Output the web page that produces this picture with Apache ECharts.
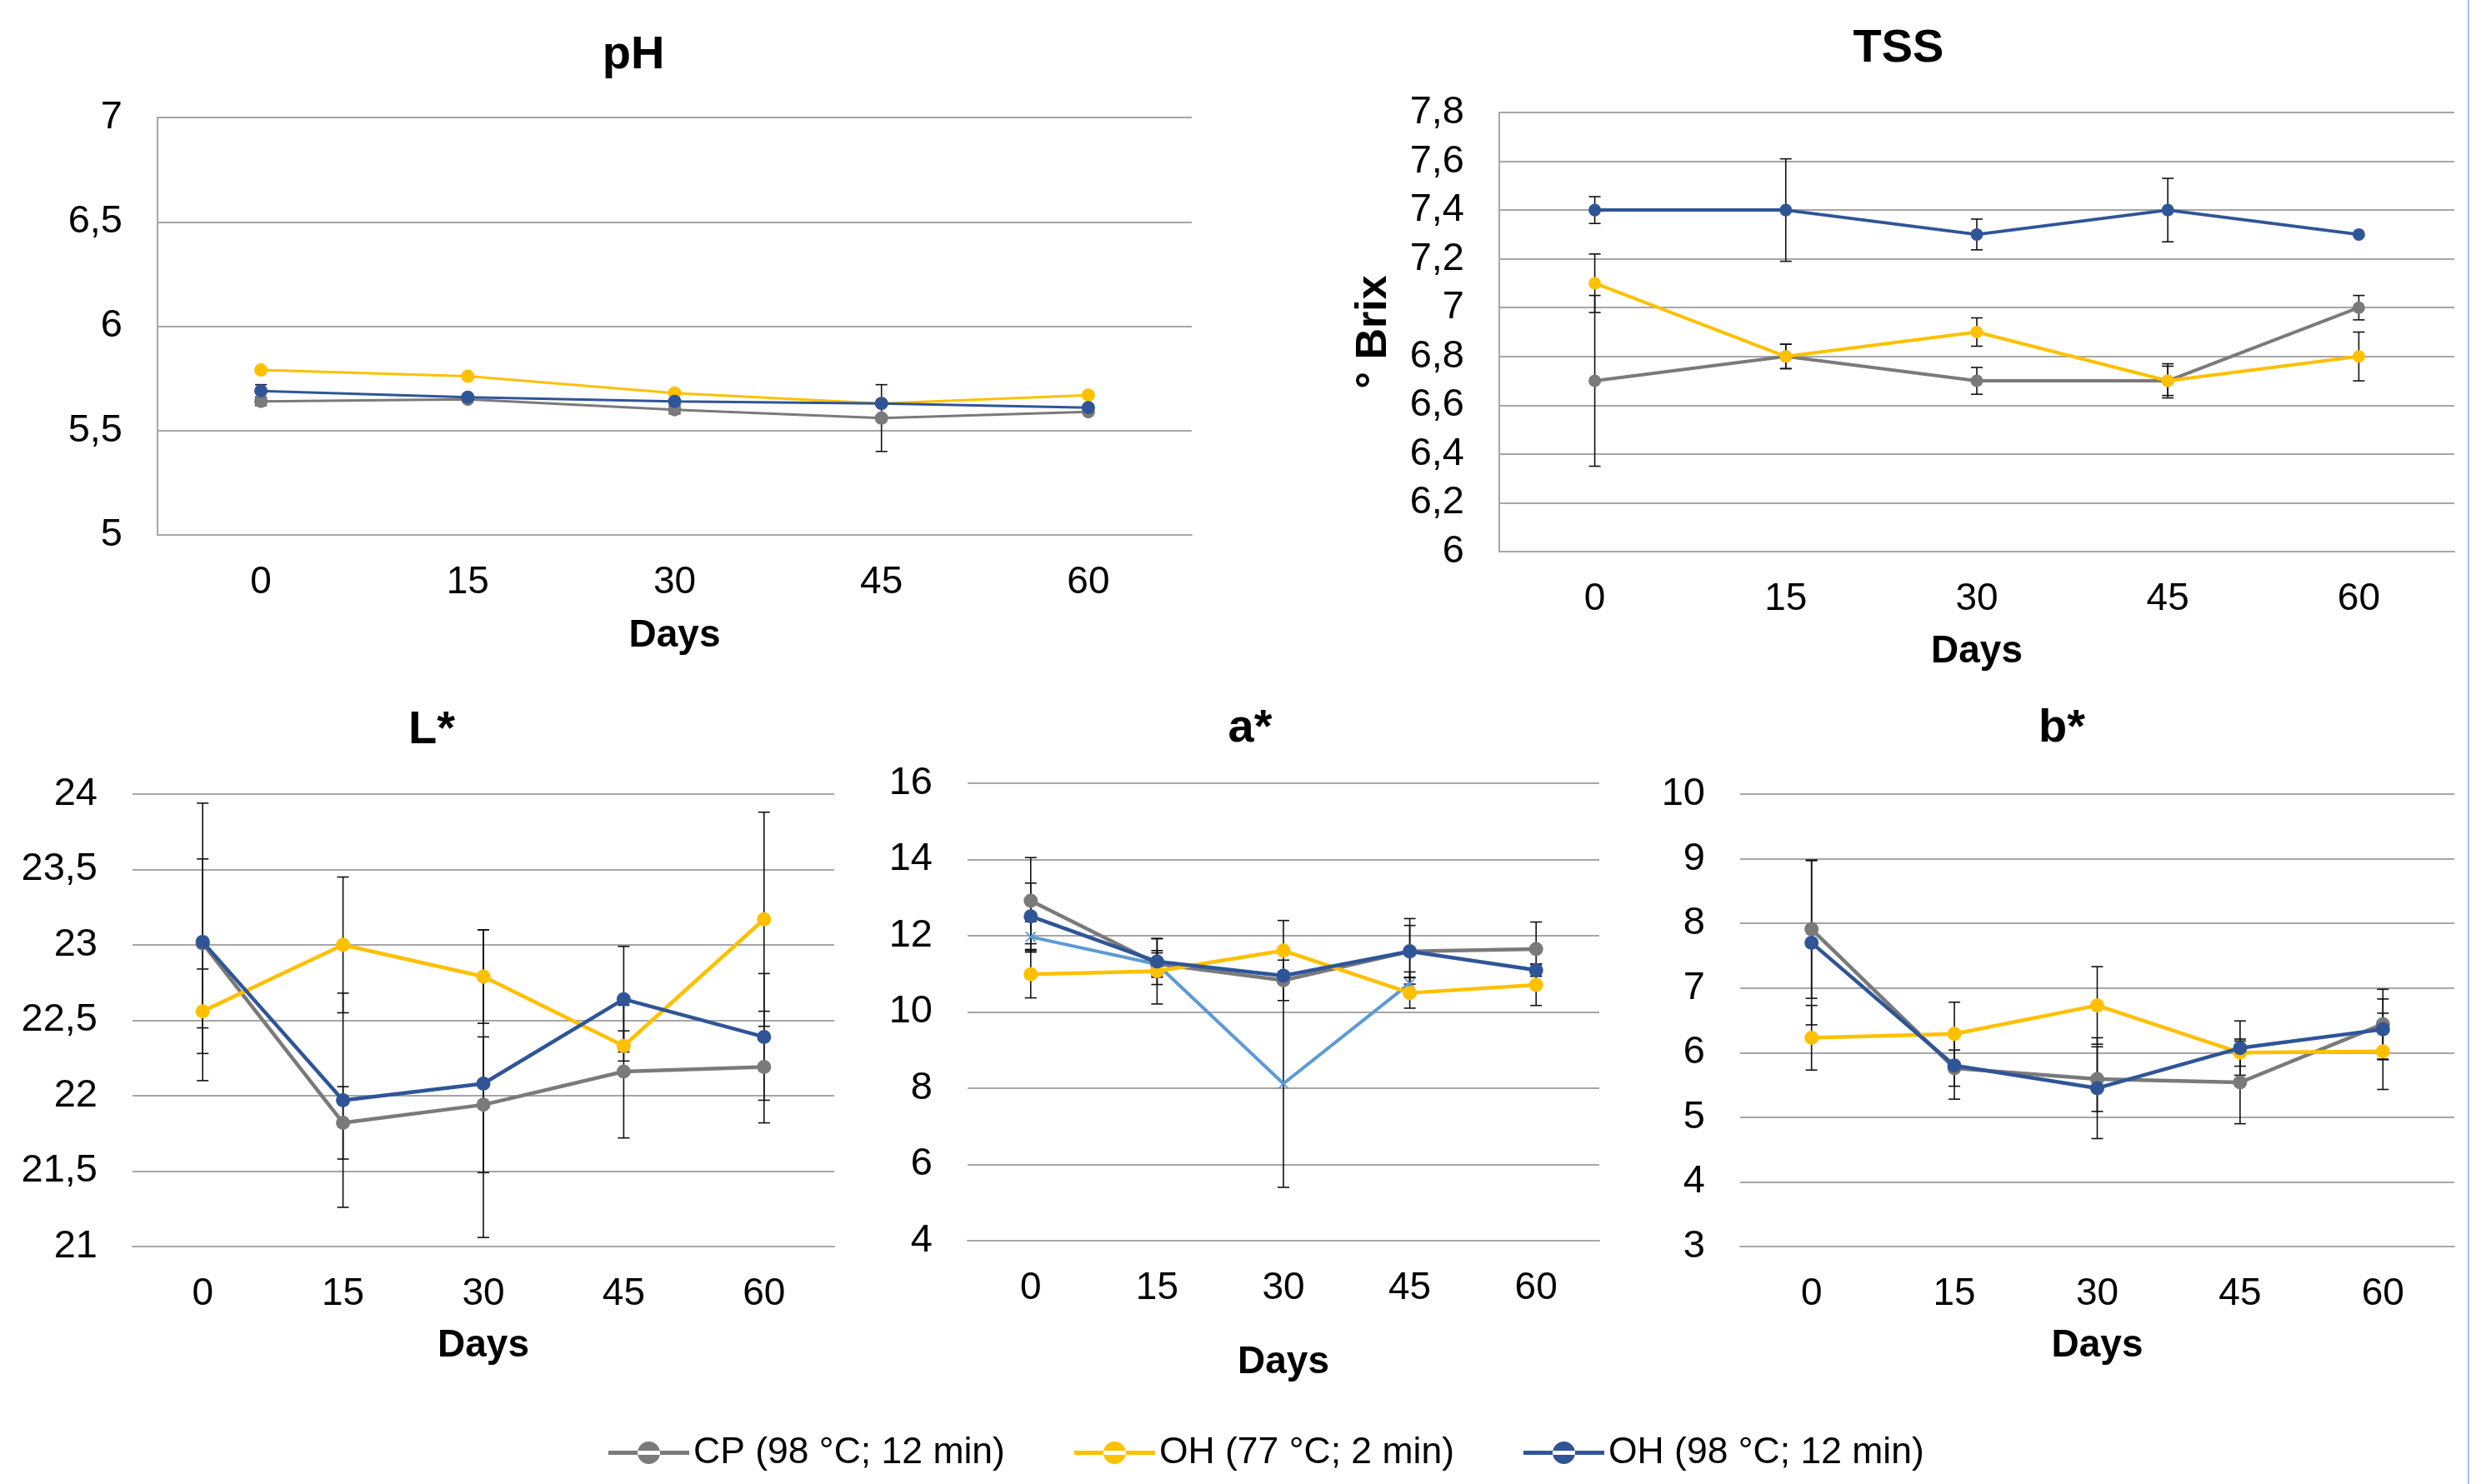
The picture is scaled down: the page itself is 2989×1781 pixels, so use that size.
<!DOCTYPE html>
<html>
<head>
<meta charset="utf-8">
<title>pH, TSS, L*, a*, b*</title>
<script src="https://cdn.jsdelivr.net/npm/echarts@6/dist/echarts.min.js"></script>
<style>
  html, body { margin: 0; padding: 0; background: #fff; }
  #main { width: 2989px; height: 1781px; }
</style>
</head>
<body>
<div id="main"></div>
<script>
// dias de almacenamiento
const days = ['0', '15', '30', '45', '60']
const names = ['CP (98 °C; 12 min)', 'OH (77 °C; 2 min)', 'OH (98 °C; 12 min)']

// pH
const phCP = [5.64, 5.65, 5.60, 5.56, 5.59]
const phOH77 = [5.79, 5.76, 5.68, 5.63, 5.67]
const phOH98 = [5.69, 5.66, 5.64, 5.63, 5.61]
const phCPErr = [0.02, 0, 0.02, 0.16, 0]
const phOH77Err = [0, 0, 0, 0, 0]
const phOH98Err = [0.03, 0, 0, 0, 0]

// TSS (° Brix)
const tssCP = [6.7, 6.8, 6.7, 6.7, 7.0]
const tssOH77 = [7.1, 6.8, 6.9, 6.7, 6.8]
const tssOH98 = [7.4, 7.4, 7.3, 7.4, 7.3]
const tssCPErr = [0.35, 0.05, 0.055, 0.06, 0.05]
const tssOH77Err = [0.12, 0.05, 0.058, 0.07, 0.1]
const tssOH98Err = [0.055, 0.21, 0.063, 0.13, 0]

// L*
const lCP = [23.01, 21.82, 21.94, 22.16, 22.19]
const lOH77 = [22.56, 23.0, 22.79, 22.33, 23.17]
const lOH98 = [23.02, 21.97, 22.08, 22.64, 22.39]
const lCPErr = [0.56, 0.24, 0.45, 0.44, 0.37]
const lOH77Err = [0.28, 0.45, 0.31, 0.1, 0.71]
const lOH98Err = [0.92, 0.71, 1.02, 0.35, 0.42]

// a*
const aCP = [12.92, 11.26, 10.83, 11.59, 11.65]
const aOH77 = [10.99, 11.07, 11.61, 10.50, 10.71]
const aOH98 = [12.51, 11.32, 10.95, 11.59, 11.10]
const aExtra = [11.97, 11.25, 8.12, 10.75, null]
const aCPErr = [1.13, 0.35, 0.53, 0.86, 0.71]
const aOH77Err = [0.62, 0.86, 0.79, 0.4, 0.54]
const aOH98Err = [0.87, 0.6, 0.1, 0.68, 0.16]
const aExtraErr = [0.4, 0.3, 2.72, 0.3, 0]

// b*
const bCP = [7.91, 5.76, 5.59, 5.54, 6.44]
const bOH77 = [6.23, 6.29, 6.73, 6.0, 6.02]
const bOH98 = [7.70, 5.80, 5.45, 6.07, 6.36]
const bCPErr = [1.07, 0.28, 0.5, 0.64, 0.54]
const bOH77Err = [0.5, 0.49, 0.6, 0.21, 0.59]
const bOH98Err = [1.27, 0.52, 0.78, 0.42, 0.47]

const colors = ['#7a7a7a', '#ffc000', '#2f5597']
const gridColor = '#a6a6a6'
const font = 'Liberation Sans, Arial, sans-serif'
// icono de leyenda: linea con circulo (caja 97x27)
const legendIcon = 'path://M0,11L97,11L97,16L0,16Z M35,13.5a13.5,13.5 0 1,0 27,0a13.5,13.5 0 1,0 -27,0Z'

// barras de error (linea vertical con topes)
function renderErr(params, api) {
  const y = api.value(1)
  const e = api.value(2)
  if (isNaN(y) || !e) return
  const hi = api.coord([api.value(0), y + e])
  const lo = api.coord([api.value(0), y - e])
  const w = 7
  const st = { stroke: '#111', lineWidth: 1.6 }
  return {
    type: 'group',
    children: [
      { type: 'line', shape: { x1: hi[0], y1: hi[1], x2: lo[0], y2: lo[1] }, style: st },
      { type: 'line', shape: { x1: hi[0] - w, y1: hi[1], x2: hi[0] + w, y2: hi[1] }, style: st },
      { type: 'line', shape: { x1: lo[0] - w, y1: lo[1], x2: lo[0] + w, y2: lo[1] }, style: st }
    ]
  }
}

function panelSeries(idx, vals, errs, width, size) {
  const out = []
  vals.forEach((v, k) => {
    out.push({
      type: 'custom',
      name: 'err' + idx + '_' + k,
      xAxisIndex: idx,
      yAxisIndex: idx,
      renderItem: renderErr,
      data: v.map((y, i) => [i, y, errs[k][i]]),
      z: 2,
      silent: true
    })
    out.push({
      name: names[k],
      type: 'line',
      xAxisIndex: idx,
      yAxisIndex: idx,
      data: v,
      symbol: 'circle',
      symbolSize: size,
      itemStyle: { color: colors[k] },
      lineStyle: { color: colors[k], width: width },
      z: 3 + k,
      silent: true
    })
  })
  return out
}

function xAx(idx, gap) {
  return {
    type: 'category',
    gridIndex: idx,
    data: days,
    boundaryGap: true,
    axisLine: { lineStyle: { color: gridColor, width: 2 } },
    axisTick: { show: false },
    axisLabel: { fontSize: 46, fontFamily: font, color: '#000', margin: 34 },
    name: 'Days',
    nameLocation: 'middle',
    nameGap: gap,
    nameTextStyle: { fontSize: 46, fontWeight: 'bold', fontFamily: font, color: '#000' }
  }
}

function yAx(idx, min, max, step, showLine) {
  return {
    type: 'value',
    gridIndex: idx,
    min: min,
    max: max,
    interval: step,
    axisLine: { show: showLine, lineStyle: { color: gridColor, width: 2 } },
    axisTick: { show: false },
    splitLine: { lineStyle: { color: gridColor, width: 2 } },
    axisLabel: {
      fontSize: 47,
      fontFamily: font,
      color: '#000',
      margin: 42,
      formatter: v => String(Math.round(v * 10) / 10).replace('.', ',')
    }
  }
}

function titleAt(text, x, y) {
  return {
    text: text,
    left: x,
    top: y,
    textAlign: 'center',
    padding: 0,
    textStyle: { fontSize: 56, fontWeight: 'bold', fontFamily: font, color: '#000' }
  }
}

const chart = echarts.init(document.getElementById('main'), null, { renderer: 'canvas' })

const tssY = yAx(1, 6, 7.8, 0.2, true)
tssY.name = '° Brix'
tssY.nameLocation = 'middle'
tssY.nameRotate = 90
tssY.nameGap = 124
tssY.nameTextStyle = { fontSize: 52, fontWeight: 'bold', fontFamily: font, color: '#000' }

let series = []
series = series.concat(panelSeries(0, [phCP, phOH77, phOH98], [phCPErr, phOH77Err, phOH98Err], 3, 16))
series = series.concat(panelSeries(1, [tssCP, tssOH77, tssOH98], [tssCPErr, tssOH77Err, tssOH98Err], 4, 15))
series = series.concat(panelSeries(2, [lCP, lOH77, lOH98], [lCPErr, lOH77Err, lOH98Err], 4.5, 17))
// serie extra sin leyenda en a*
series.push({
  type: 'custom',
  name: 'errExtra',
  xAxisIndex: 3,
  yAxisIndex: 3,
  renderItem: renderErr,
  data: aExtra.map((y, i) => [i, y == null ? NaN : y, aExtraErr[i]]),
  z: 2,
  silent: true
})
series.push({
  name: 'extra',
  type: 'line',
  xAxisIndex: 3,
  yAxisIndex: 3,
  data: aExtra,
  symbol: 'path://M0,1L1,0L10,9L9,10ZM9,0L10,1L1,10L0,9Z',
  symbolSize: 13,
  itemStyle: { color: '#5b9bd5' },
  lineStyle: { color: '#5b9bd5', width: 4 },
  z: 3,
  silent: true
})
series = series.concat(panelSeries(3, [aCP, aOH77, aOH98], [aCPErr, aOH77Err, aOH98Err], 4.5, 17))
series = series.concat(panelSeries(4, [bCP, bOH77, bOH98], [bCPErr, bOH77Err, bOH98Err], 4.5, 17))

const option = {
  animation: false,
  backgroundColor: '#fff',
  title: [
    titleAt('pH', 760, 39),
    titleAt('TSS', 2278, 31),
    titleAt('L*', 518, 849),
    titleAt('a*', 1500, 847),
    titleAt('b*', 2474, 847)
  ],
  legend: {
    data: names.map(n => ({ name: n, icon: legendIcon })),
    left: 730,
    top: 1721,
    padding: 0,
    itemWidth: 97,
    itemHeight: 27,
    itemGap: 83,
    itemTextGap: 10,
    textStyle: { fontSize: 44.5, fontFamily: font, color: '#000' }
  },
  grid: [
    { left: 189, top: 141, width: 1241, height: 501 },
    { left: 1799, top: 135, width: 1146, height: 527 },
    { left: 159, top: 953, width: 842, height: 543 },
    { left: 1161, top: 940, width: 758, height: 549 },
    { left: 2088, top: 953, width: 857, height: 543 }
  ],
  xAxis: [xAx(0, 98), xAx(1, 97), xAx(2, 96), xAx(3, 123), xAx(4, 96)],
  yAxis: [
    yAx(0, 5, 7, 0.5, true),
    tssY,
    yAx(2, 21, 24, 0.5, false),
    yAx(3, 4, 16, 2, false),
    yAx(4, 3, 10, 1, false)
  ],
  graphic: [{
    type: 'line',
    shape: { x1: 2962, y1: 0, x2: 2962, y2: 1781 },
    style: { stroke: '#9dc3e6', lineWidth: 2 }
  }],
  series: series
}

chart.setOption(option)
</script>
</body>
</html>
